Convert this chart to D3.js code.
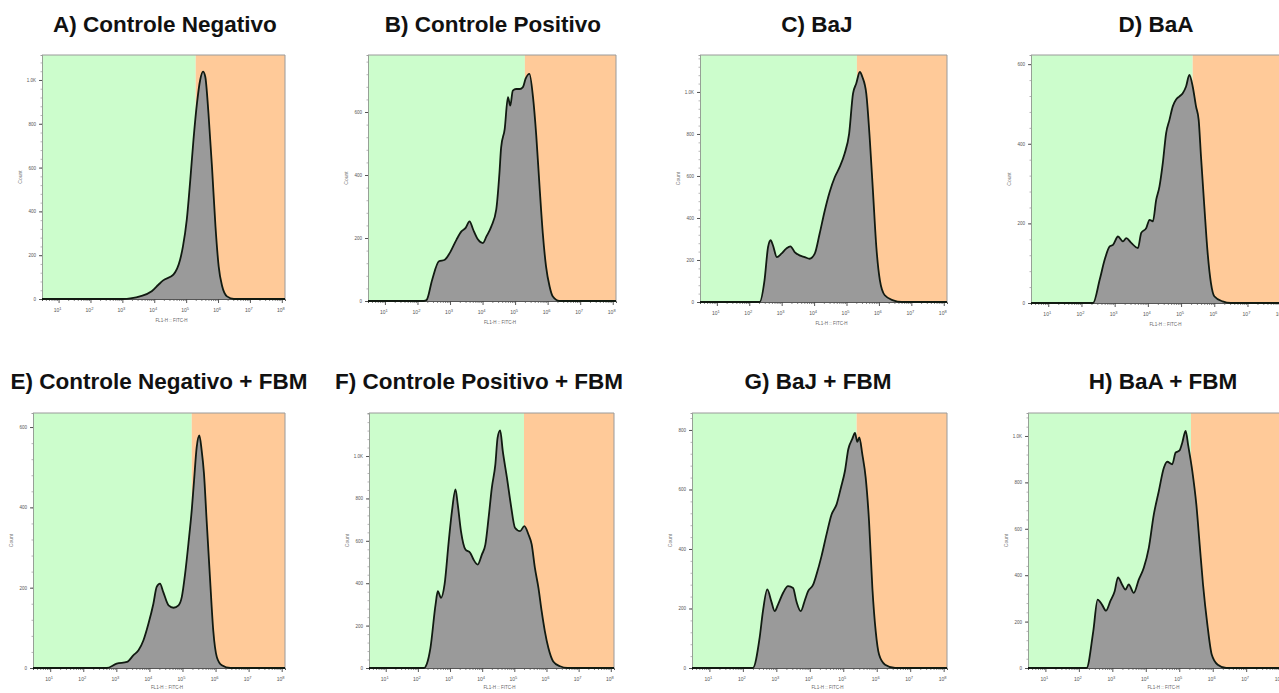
<!DOCTYPE html>
<html>
<head>
<meta charset="utf-8">
<script src="https://cdn.jsdelivr.net/npm/d3@7"></script>
<style>
body { margin: 0; background: #fff; }
svg { display: block; }
</style>
</head>
<body>
<div id="chart"></div>
<script>
var titles = ["A) Controle Negativo", "B) Controle Positivo", "C) BaJ", "D) BaA",
    "E) Controle Negativo + FBM", "F) Controle Positivo + FBM", "G) BaJ + FBM", "H) BaA + FBM"];

// gate between green (negative) and orange (positive) zone, in log10 FL1-H
var gates = [5.30, 5.30, 5.32, 5.35, 5.28, 5.30, 5.40, 5.35];

// top of the count axis in each panel
var countMax = [1114, 781, 1176, 623, 635, 1203, 857, 1099];

var decades = [1, 2, 3, 4, 5, 6, 7, 8];

// histograms: log10(FL1-H :: FITC-H) and event count
var logA = [0.48, 3.0, 3.3, 3.55, 3.92, 4.13, 4.28, 4.6, 4.81, 4.9, 5.02, 5.13, 5.23, 5.34, 5.44, 5.53, 5.6, 5.7, 5.81, 5.92, 6.02, 6.13, 6.28, 6.5, 8.1];
var countA = [0, 0, 4, 12, 35, 65, 85, 111, 179, 240, 362, 544, 727, 894, 1000, 1038, 1015, 848, 605, 331, 149, 58, 12, 0, 0];

var logB = [0.48, 2.2, 2.28, 2.45, 2.66, 2.84, 2.99, 3.2, 3.35, 3.48, 3.6, 3.71, 3.86, 4.01, 4.12, 4.27, 4.42, 4.52, 4.57, 4.68, 4.78, 4.85, 4.93, 5.03, 5.14, 5.24, 5.32, 5.44, 5.55, 5.65, 5.75, 5.85, 5.95, 6.06, 6.16, 6.36, 8.1];
var countB = [0, 0, 3, 67, 126, 131, 152, 195, 221, 232, 253, 227, 195, 184, 205, 237, 290, 408, 487, 546, 647, 620, 668, 673, 673, 679, 705, 721, 647, 525, 365, 216, 110, 46, 14, 0, 0];

var logC = [0.48, 2.32, 2.47, 2.58, 2.66, 2.73, 2.85, 2.99, 3.14, 3.27, 3.4, 3.55, 3.71, 3.86, 4.02, 4.17, 4.33, 4.48, 4.64, 4.79, 4.94, 5.08, 5.2, 5.3, 5.41, 5.49, 5.61, 5.72, 5.82, 5.92, 6.03, 6.18, 6.44, 6.7, 8.1];
var countC = [0, 0, 103, 262, 294, 270, 214, 230, 254, 265, 238, 222, 214, 206, 230, 325, 436, 524, 595, 643, 706, 801, 992, 1040, 1095, 1071, 992, 770, 516, 262, 103, 32, 8, 0, 0];

var logD = [0.48, 2.35, 2.55, 2.7, 2.85, 2.95, 3.1, 3.25, 3.35, 3.5, 3.7, 3.8, 3.95, 4.05, 4.15, 4.25, 4.35, 4.45, 4.55, 4.65, 4.75, 4.85, 4.95, 5.05, 5.15, 5.25, 5.35, 5.45, 5.53, 5.6, 5.7, 5.8, 5.9, 6.0, 6.25, 6.5, 8.1];
var countD = [0, 0, 59, 109, 142, 146, 167, 155, 163, 151, 138, 176, 188, 209, 205, 259, 293, 352, 427, 460, 494, 511, 519, 527, 544, 573, 544, 494, 460, 368, 243, 126, 50, 17, 4, 0, 0];

var logE = [0.48, 2.71, 3.01, 3.32, 3.52, 3.67, 3.82, 3.97, 4.12, 4.22, 4.32, 4.42, 4.58, 4.73, 4.88, 4.98, 5.08, 5.18, 5.28, 5.35, 5.43, 5.51, 5.58, 5.65, 5.73, 5.83, 5.93, 6.04, 6.19, 6.45, 8.1];
var countE = [0, 0, 11, 15, 32, 44, 69, 110, 160, 202, 210, 189, 156, 150, 156, 177, 235, 310, 393, 467, 550, 579, 542, 484, 368, 227, 94, 27, 7, 0, 0];

var logF = [0.48, 2.19, 2.28, 2.39, 2.55, 2.62, 2.72, 2.83, 2.96, 3.06, 3.17, 3.24, 3.34, 3.48, 3.63, 3.73, 3.86, 3.99, 4.1, 4.2, 4.3, 4.41, 4.48, 4.56, 4.64, 4.77, 4.89, 5.02, 5.18, 5.31, 5.44, 5.54, 5.64, 5.75, 5.85, 5.95, 6.06, 6.21, 6.42, 6.65, 8.1];
var countF = [0, 0, 20, 94, 299, 362, 331, 394, 598, 740, 843, 772, 646, 559, 543, 512, 488, 535, 583, 709, 850, 961, 1087, 1121, 1024, 898, 772, 662, 646, 669, 630, 583, 472, 378, 268, 173, 94, 31, 8, 0, 0];

var logG = [0.48, 2.3, 2.5, 2.6, 2.73, 2.85, 2.95, 3.05, 3.2, 3.35, 3.5, 3.6, 3.73, 3.85, 3.95, 4.1, 4.2, 4.35, 4.5, 4.65, 4.8, 4.93, 5.05, 5.15, 5.27, 5.35, 5.42, 5.48, 5.57, 5.67, 5.77, 5.87, 5.97, 6.07, 6.25, 6.55, 8.1];
var countG = [0, 0, 101, 191, 264, 224, 191, 213, 252, 275, 269, 224, 191, 227, 258, 280, 314, 376, 449, 516, 550, 606, 662, 735, 770, 790, 760, 775, 718, 640, 494, 269, 123, 45, 11, 0, 0];

var logH = [0.48, 2.23, 2.43, 2.56, 2.69, 2.81, 2.94, 3.07, 3.17, 3.29, 3.39, 3.49, 3.64, 3.79, 3.94, 4.09, 4.24, 4.39, 4.54, 4.64, 4.79, 4.89, 5.01, 5.09, 5.19, 5.27, 5.39, 5.51, 5.61, 5.71, 5.84, 5.97, 6.15, 6.4, 8.1];
var countH = [0, 0, 158, 295, 273, 247, 288, 331, 391, 360, 338, 360, 324, 381, 432, 518, 662, 763, 863, 889, 878, 928, 938, 971, 1022, 957, 849, 705, 532, 360, 187, 58, 14, 0, 0];

var panelLog = [logA, logB, logC, logD, logE, logF, logG, logH];
var panelCount = [countA, countB, countC, countD, countE, countF, countG, countH];

// plot boxes (page pixels) and title centre for each panel
var boxes = [
    {left: 42, right: 285, top: 55, bottom: 299, titleX: 165, titleY: 32},
    {left: 368, right: 616, top: 55, bottom: 301, titleX: 493, titleY: 32},
    {left: 700, right: 947, top: 55, bottom: 302, titleX: 817, titleY: 32},
    {left: 1031, right: 1284, top: 55, bottom: 303, titleX: 1156, titleY: 32},
    {left: 33, right: 285, top: 413, bottom: 668, titleX: 159, titleY: 389},
    {left: 369, right: 614, top: 413, bottom: 668, titleX: 479, titleY: 389},
    {left: 692, right: 947, top: 413, bottom: 668, titleX: 818, titleY: 389},
    {left: 1028, right: 1283, top: 413, bottom: 668, titleX: 1163, titleY: 389}
];

var svg = d3.select("#chart").append("svg")
    .attr("width", 1279)
    .attr("height", 693);

function countFormat(v) {
    return v >= 1000 ? (v / 1000).toFixed(1) + "K" : String(v);
}

function drawPanel(i) {
    var b = boxes[i];
    var x = d3.scaleLog()
        .domain([Math.pow(10, 0.48), Math.pow(10, 8.1)])
        .range([b.left, b.right]);
    var y = d3.scaleLinear()
        .domain([0, countMax[i]])
        .range([b.bottom, b.top]);
    var g = svg.append("g");
    var gx = x(Math.pow(10, gates[i]));

    // gate zones
    g.append("rect")
        .attr("x", b.left).attr("y", b.top)
        .attr("width", gx - b.left).attr("height", b.bottom - b.top)
        .attr("fill", "#ccfdcc");
    g.append("rect")
        .attr("x", gx).attr("y", b.top)
        .attr("width", b.right - gx).attr("height", b.bottom - b.top)
        .attr("fill", "#ffca99");

    // frame
    g.append("path")
        .attr("d", "M" + b.left + "," + b.top + "H" + b.right + "V" + b.bottom)
        .attr("fill", "none")
        .attr("stroke", "#9a9a9a")
        .attr("stroke-width", 1);

    var pts = d3.zip(panelLog[i], panelCount[i]);
    var area = d3.area()
        .x(function (d) { return x(Math.pow(10, d[0])); })
        .y0(y(0))
        .y1(function (d) { return y(d[1]); })
        .curve(d3.curveMonotoneX);
    var line = d3.line()
        .x(function (d) { return x(Math.pow(10, d[0])); })
        .y(function (d) { return y(d[1]); })
        .curve(d3.curveMonotoneX);

    g.append("path").datum(pts)
        .attr("d", area)
        .attr("fill", "#9a9a9a");

    // x axis, minor ticks then decades
    var minor = [];
    decades.forEach(function (k) {
        for (var m = 2; m <= 9; m++) {
            var v = m * Math.pow(10, k - 1);
            if (v > Math.pow(10, 0.48)) minor.push(v);
        }
    });
    g.append("g")
        .attr("transform", "translate(0," + b.bottom + ")")
        .call(d3.axisBottom(x).tickValues(minor).tickSize(2).tickFormat(""))
        .call(function (a) {
            a.select(".domain").attr("stroke", "#555");
            a.selectAll(".tick line").attr("stroke", "#555").attr("stroke-width", 0.7);
        });
    g.append("g")
        .attr("transform", "translate(0," + b.bottom + ")")
        .call(d3.axisBottom(x).tickValues(decades.map(function (k) { return Math.pow(10, k); }))
            .tickSize(4).tickFormat(""))
        .call(function (a) {
            a.select(".domain").remove();
            a.selectAll(".tick line").attr("stroke", "#444").attr("stroke-width", 0.9);
        });
    var lbl = g.selectAll(".xl").data(decades).enter().append("text")
        .attr("x", function (k) { return x(Math.pow(10, k)) - 1; })
        .attr("y", b.bottom + 13)
        .attr("text-anchor", "middle")
        .attr("font-family", "Liberation Sans, Arial, sans-serif")
        .attr("font-size", "5px")
        .attr("fill", "#555")
        .text("10");
    lbl.append("tspan")
        .attr("dy", -2.5)
        .attr("font-size", "4px")
        .text(function (k) { return k; });

    g.append("text")
        .attr("x", (b.left + b.right) / 2 + 8)
        .attr("y", b.bottom + (i < 4 ? 23 : 21))
        .attr("text-anchor", "middle")
        .attr("font-family", "Liberation Sans, Arial, sans-serif")
        .attr("font-size", "4.5px")
        .attr("fill", "#666")
        .text("FL1-H :: FITC-H");

    // y axis
    var major = d3.range(0, countMax[i] * 0.97, 200);
    var yMinor = d3.range(0, countMax[i], 40);
    g.append("g")
        .attr("transform", "translate(" + b.left + ",0)")
        .call(d3.axisLeft(y).tickValues(yMinor).tickSize(1.5).tickFormat(""))
        .call(function (a) {
            a.select(".domain").attr("stroke", "#888").attr("stroke-width", 0.8);
            a.selectAll(".tick line").attr("stroke", "#888").attr("stroke-width", 0.6);
        });
    g.append("g")
        .attr("transform", "translate(" + b.left + ",0)")
        .call(d3.axisLeft(y).tickValues(major).tickSize(3).tickPadding(3).tickFormat(countFormat))
        .call(function (a) {
            a.select(".domain").remove();
            a.selectAll(".tick line").attr("stroke", "#444").attr("stroke-width", 0.9);
            a.selectAll(".tick text")
                .attr("font-family", "Liberation Sans, Arial, sans-serif")
                .attr("font-size", "4.5px")
                .attr("fill", "#555");
        });

    g.append("text")
        .attr("transform", "translate(" + (b.left - 20) + "," + ((b.top + b.bottom) / 2) + ") rotate(-90)")
        .attr("text-anchor", "middle")
        .attr("font-family", "Liberation Sans, Arial, sans-serif")
        .attr("font-size", "5px")
        .attr("fill", "#777")
        .text("Count");

    // outline drawn last so it sits on the zero line
    g.append("path").datum(pts)
        .attr("d", line)
        .attr("fill", "none")
        .attr("stroke", "#111a11")
        .attr("stroke-width", 1.8)
        .attr("stroke-linejoin", "round");

    g.append("text")
        .attr("x", b.titleX)
        .attr("y", b.titleY)
        .attr("text-anchor", "middle")
        .attr("font-family", "Liberation Sans, Arial, sans-serif")
        .attr("font-weight", "bold")
        .attr("font-size", "22.5px")
        .attr("fill", "#111")
        .text(titles[i]);
}

for (var i = 0; i < titles.length; i++) {
    drawPanel(i);
}
</script>
</body>
</html>
